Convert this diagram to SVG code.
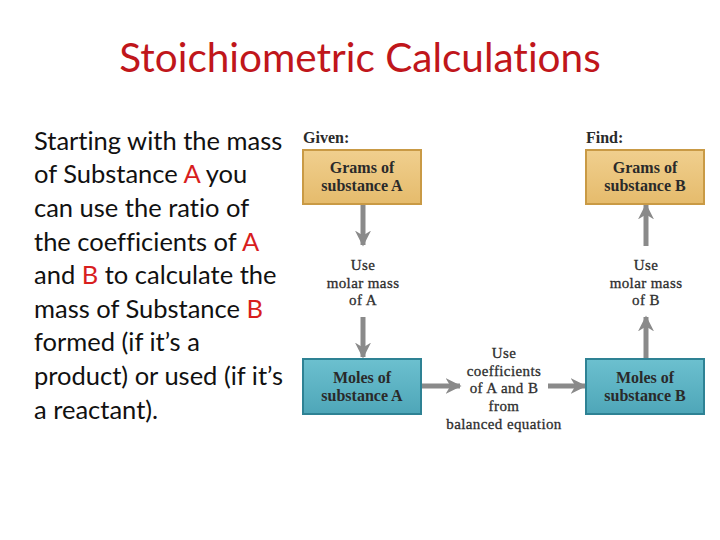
<svg xmlns="http://www.w3.org/2000/svg" width="720" height="540" viewBox="0 0 720 540">
<defs>
<linearGradient id="gold" x1="0" y1="0" x2="0" y2="1"><stop offset="0" stop-color="#f0cf8e"/><stop offset="1" stop-color="#e5bb6c"/></linearGradient>
<linearGradient id="teal" x1="0" y1="0" x2="0" y2="1"><stop offset="0" stop-color="#6cc0cf"/><stop offset="1" stop-color="#4ea6b8"/></linearGradient>
<marker id="ah" viewBox="0 0 10 10" refX="9" refY="5" markerWidth="3.2" markerHeight="3.2" orient="auto" markerUnits="strokeWidth"><path d="M0,0 L10,5 L0,10 L3,5 z" fill="#8a8a8a"/></marker>
</defs>
<style>
.title{font-family:"Lato","Open Sans",sans-serif;font-size:40.5px;fill:#c0161b;font-variant-ligatures:none}
.body{font-family:"Lato","Open Sans",sans-serif;font-size:25.5px;fill:#111;font-variant-ligatures:none}
.red{fill:#d81e1e}
.box{font-family:"Liberation Serif","DejaVu Serif",serif;font-size:16px;fill:#2a2a2a;font-weight:bold;text-anchor:middle}
.lbl{font-family:"Liberation Serif","DejaVu Serif",serif;font-size:16px;fill:#2a2a2a;font-weight:bold}
.note{font-family:"Liberation Serif","DejaVu Serif",serif;font-size:15px;letter-spacing:0.4px;fill:#2e2e2e;text-anchor:middle;stroke:#2e2e2e;stroke-width:0.3}
.gb{fill:url(#gold);stroke:#c99a45;stroke-width:2}
.tb{fill:url(#teal);stroke:#2e8294;stroke-width:2}
.arr{stroke:#8a8a8a;stroke-width:5;fill:none;marker-end:url(#ah)}
</style>
<rect width="720" height="540" fill="#fff"/>
<text class="title" x="360" y="72" text-anchor="middle">Stoichiometric Calculations</text>
<g id="description">
<text class="body" x="34" y="150">Starting with the mass</text>
<text class="body" x="34" y="183">of Substance <tspan class="red">A</tspan> you</text>
<text class="body" x="34" y="217">can use the ratio of</text>
<text class="body" x="34" y="251">the coefficients of <tspan class="red">A</tspan></text>
<text class="body" x="34" y="284">and <tspan class="red">B</tspan> to calculate the</text>
<text class="body" x="34" y="318">mass of Substance <tspan class="red">B</tspan></text>
<text class="body" x="34" y="351">formed (if it’s a</text>
<text class="body" x="34" y="385">product) or used (if it’s</text>
<text class="body" x="34" y="419">a reactant).</text>
</g>
<text class="lbl" x="303" y="143">Given:</text>
<text class="lbl" x="586" y="143">Find:</text>
<g id="connectors">
<line class="arr" x1="363" y1="205" x2="363" y2="245"/>
<line class="arr" x1="363" y1="317" x2="363" y2="357"/>
<line class="arr" x1="422" y1="386" x2="460" y2="386"/>
<line class="arr" x1="548" y1="386" x2="585" y2="386"/>
<line class="arr" x1="646" y1="358" x2="646" y2="317"/>
<line class="arr" x1="646" y1="246" x2="646" y2="205"/>
</g>
<g id="gramsA">
<rect class="gb" x="303" y="150" width="118" height="54"/>
<text class="box" x="362" y="173">Grams of</text>
<text class="box" x="362" y="191">substance A</text>
</g>
<g id="molesA">
<rect class="tb" x="303" y="359" width="118" height="55"/>
<text class="box" x="362" y="383">Moles of</text>
<text class="box" x="362" y="401">substance A</text>
</g>
<g id="gramsB">
<rect class="gb" x="586" y="150" width="118" height="54"/>
<text class="box" x="645" y="173">Grams of</text>
<text class="box" x="645" y="191">substance B</text>
</g>
<g id="molesB">
<rect class="tb" x="586" y="359" width="118" height="55"/>
<text class="box" x="645" y="383">Moles of</text>
<text class="box" x="645" y="401">substance B</text>
</g>
<g id="molarA">
<text class="note" x="363" y="270">Use</text>
<text class="note" x="363" y="288">molar mass</text>
<text class="note" x="363" y="305">of A</text>
</g>
<g id="molarB">
<text class="note" x="646" y="270">Use</text>
<text class="note" x="646" y="288">molar mass</text>
<text class="note" x="646" y="305">of B</text>
</g>
<g id="coef">
<text class="note" x="504" y="358">Use</text>
<text class="note" x="504" y="376">coefficients</text>
<text class="note" x="504" y="393">of A and B</text>
<text class="note" x="504" y="411">from</text>
<text class="note" x="504" y="429">balanced equation</text>
</g>
</svg>
